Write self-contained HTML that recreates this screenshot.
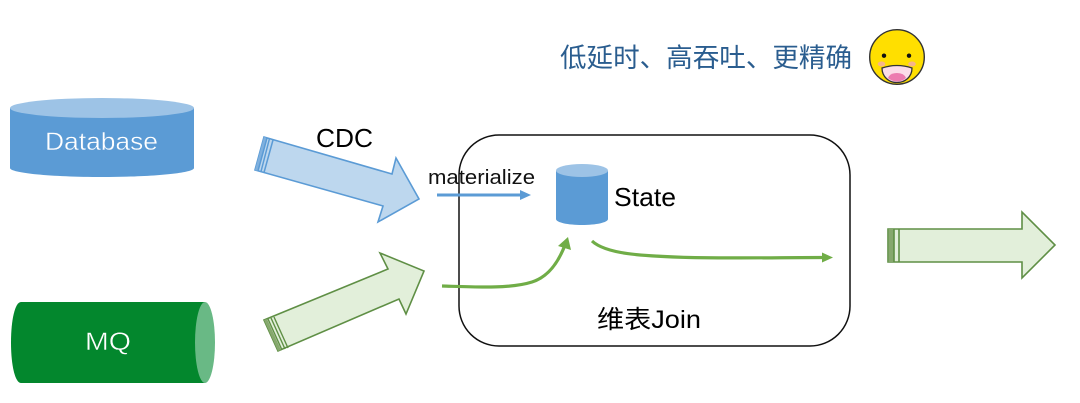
<!DOCTYPE html>
<html><head><meta charset="utf-8"><style>
html,body{margin:0;padding:0;background:#fff}
svg{display:block}
text{font-family:"Liberation Sans","Noto Sans CJK SC",sans-serif}
</style></head><body>
<svg width="1080" height="403" viewBox="0 0 1080 403" xmlns="http://www.w3.org/2000/svg">
<rect width="1080" height="403" fill="#fff"/>
<!-- Database -->
<path d="M10 108V168C10 173 51 177 102 177S194 173 194 168V108Z" fill="#5b9bd5"/>
<ellipse cx="102" cy="108" rx="92" ry="10" fill="#9dc3e6"/>
<text x="45" y="150" font-size="25" fill="#fff" stroke="#5b9bd5" stroke-width="0.4" textLength="113" lengthAdjust="spacingAndGlyphs">Database</text>
<!-- MQ -->
<path d="M21 302H205V383H21C15 383 11 365 11 342.5S15 302 21 302Z" fill="#03872d"/>
<ellipse cx="205" cy="342.500" rx="10" ry="40.500" fill="#69b985"/>
<text x="85" y="350" font-size="25" fill="#fff" stroke="#03872d" stroke-width="0.4" textLength="46" lengthAdjust="spacingAndGlyphs">MQ</text>
<!-- CDC arrow -->
<path d="M264 137L392 174L396 158L419 199L378 222L383 206L255 170Z" fill="#bdd7ee" stroke="#5b9bd5" stroke-width="1.600"/>
<path d="M264 137L255 170L258 171L267 138Z" fill="#7fb0de"/>
<path d="M267 138L258 171M269.500 138.500L261 171.500M273 140L264 172.500" stroke="#5b9bd5" stroke-width="1.500" fill="none"/>
<text x="316" y="147" font-size="26" fill="#000" textLength="57" lengthAdjust="spacingAndGlyphs">CDC</text>
<!-- Green arrow -->
<path d="M264 320L388 269L380 253L424 271L406 314L399 299L278 351Z" fill="#e2efda" stroke="#5f8f45" stroke-width="1.600"/>
<path d="M264 320L278 351L281 350L267 319Z" fill="#86a86d"/>
<path d="M268 319L282 350M271 318L285 349M274 317L288 348" stroke="#5f8f45" stroke-width="1.400" fill="none"/>
<!-- Right arrow -->
<path d="M888 229H1022V212L1055 245L1022 278V262H888Z" fill="#e2efda" stroke="#5f8f45" stroke-width="1.600"/>
<rect x="888.500" y="229" width="5.500" height="33" fill="#86a86d"/>
<path d="M894 229V262M899 229V262" stroke="#5f8f45" stroke-width="1.600" fill="none"/>
<!-- Join box -->
<rect x="459" y="135" width="391" height="211" rx="40" ry="40" fill="none" stroke="#111" stroke-width="1.500"/>
<!-- materialize -->
<text x="428" y="184" font-size="20" fill="#111" textLength="107" lengthAdjust="spacingAndGlyphs">materialize</text>
<path d="M437 195H522" stroke="#5b9bd5" stroke-width="3" fill="none"/>
<path d="M520 190L531 195L520 200Z" fill="#5b9bd5"/>
<!-- State -->
<path d="M556 171V219C556 222.500 568 225 582 225S608 222.500 608 219V171Z" fill="#5b9bd5"/>
<ellipse cx="582" cy="170.500" rx="26" ry="6.500" fill="#9dc3e6"/>
<text x="614" y="206" font-size="26" fill="#000" textLength="62" lengthAdjust="spacingAndGlyphs">State</text>
<!-- Green curves -->
<path d="M442 286C475 287 510 289 532 282C551 276 560 258 565 245" stroke="#70ad47" stroke-width="3.200" fill="none"/>
<path d="M558 246L568 237L571 250Z" fill="#70ad47"/>
<path d="M592 241C606 254 640 256 690 257.500C740 258.500 780 257.500 824 257.500" stroke="#70ad47" stroke-width="3.200" fill="none"/>
<path d="M822 252.500L833 257.500L822 262.500Z" fill="#70ad47"/>
<text x="597" y="328" font-size="25" fill="#000" textLength="104" lengthAdjust="spacingAndGlyphs">维表Join</text>
<!-- Title -->
<text x="560" y="67" font-size="26.500" fill="#2a5d8f" textLength="292" lengthAdjust="spacingAndGlyphs">低延时、高吞吐、更精确</text>
<!-- Emoji -->
<circle cx="897" cy="57" r="27.300" fill="#ffdf00" stroke="#333" stroke-width="1.400"/>
<circle cx="884" cy="55.700" r="2.200" fill="#111"/>
<circle cx="909" cy="55.700" r="2.200" fill="#111"/>
<ellipse cx="881.500" cy="64" rx="3.800" ry="2.500" fill="#f7b58a"/>
<ellipse cx="912" cy="64" rx="3.800" ry="2.500" fill="#f7b58a"/>
<path d="M882 68Q897 63 912 68C912 77 905 82.500 897 82.500S882 77 882 68Z" fill="#fbdce8" stroke="#333" stroke-width="1.300"/>
<path d="M888 78Q890 73 897 73T906 78Q902 81.500 897 81.500T888 78Z" fill="#ec7cb0"/>
</svg>
</body></html>
